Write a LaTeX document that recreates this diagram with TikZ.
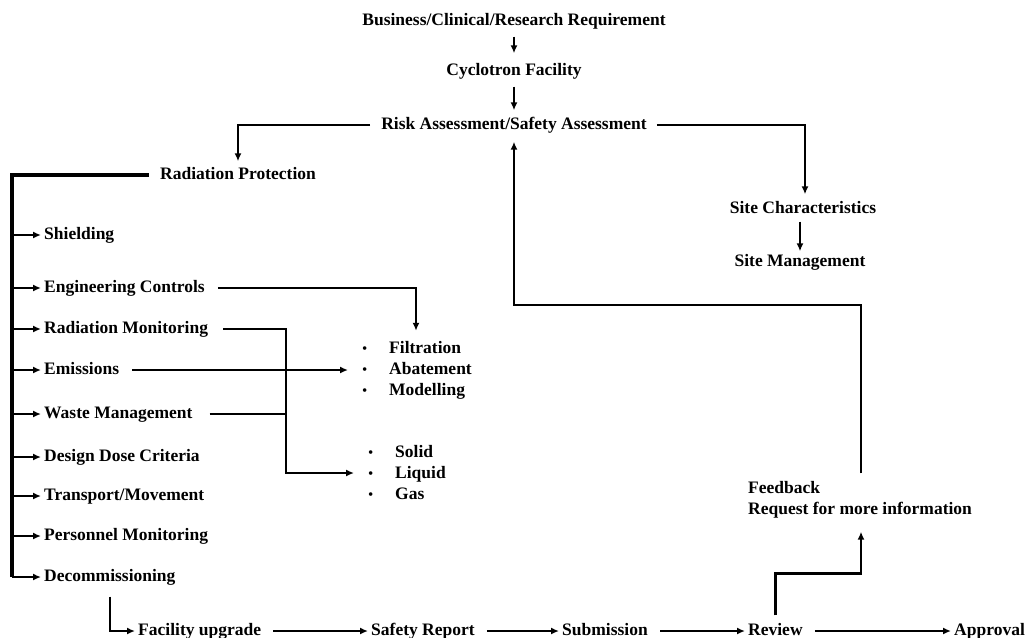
\documentclass[tikz,border=0pt]{standalone}
\usepackage{fontspec}
\setmainfont{Liberation Serif}
\usetikzlibrary{arrows.meta}

\tikzset{
  lbl/.style={font=\fontsize{17.5}{21}\selectfont\bfseries, inner sep=3pt, text height=11.5pt, text depth=3.5pt},
  blist/.style={font=\fontsize{17.5}{21}\selectfont\bfseries, inner sep=3pt, align=left},
  link/.style={line width=2.5pt, -{Latex[length=8pt,width=7pt]}},
  plain/.style={line width=2.5pt},
}
\newcommand{\bul}{\makebox[38pt][l]{\hspace{11pt}\mdseries\fontsize{15}{15}\selectfont\textbullet}}

\begin{document}
\begin{tikzpicture}[x=1pt, y=-1pt]
\useasboundingbox (0,-3) rectangle (1027,634);

% Top chain
\node[lbl] (biz) at (514,18) {Business/Clinical/Research Requirement};
\node[lbl] (cyc) at (514,68) {Cyclotron Facility};
\node[lbl] (risk) at (514,122) {Risk Assessment/Safety Assessment};
\draw[link, shorten <=5pt, shorten >=7pt] (biz) -- (cyc);
\draw[link, shorten <=5pt, shorten >=4pt] (cyc) -- (risk);

% Site branch
\node[lbl] (sitec) at (803,206) {Site Characteristics};
\node[lbl] (siteman) at (800,259) {Site Management};
\draw[link, shorten <=7pt, shorten >=4pt] (risk.east) -| ([xshift=2pt]sitec.north);
\draw[link, shorten <=2pt] (sitec.south -| siteman.north) -- (siteman.north);

% Radiation protection and its items
\node[lbl] (prot) at (238,172) {Radiation Protection};
\draw[link, shorten <=8pt, shorten >=3pt] (risk.west) -| (prot.north);
\coordinate (spine) at (12,172);
\foreach \nm/\yy/\txt in {shld/232/Shielding, eng/285/Engineering Controls,
    radmon/326/Radiation Monitoring, emis/367/Emissions, waste/411/Waste Management,
    dose/454/Design Dose Criteria, trans/493/{Transport/Movement},
    pers/533/Personnel Monitoring, dec/574/Decommissioning}
  \node[lbl, anchor=west] (\nm) at (41,\yy) {\txt};
\draw[line width=4pt] ([xshift=-8pt]prot.west) -- (spine) -- (spine |- dec.west);
\foreach \nm in {shld,eng,radmon,emis,waste,dose,trans,pers,dec}
  \draw[link] (spine |- \nm.west) -- (\nm.west);

% Bullet lists
\node[blist, anchor=west] (filt) at (348,367) {\bul Filtration\\ \bul Abatement\\ \bul Modelling};
\node[blist, anchor=west] (wlist) at (354,470) {\bul Solid\\ \bul Liquid\\ \bul Gas};
\coordinate (jn) at (286,0);
\draw[link, shorten <=10pt, shorten >=7pt] (eng.east) -| (416,0 |- filt.north);
\draw[link, shorten <=10pt] (emis.east) -- (filt.west);
\draw[link, shorten <=12pt] (radmon.east) -- (radmon.east -| jn) |- (wlist.west);
\draw[plain, shorten <=14pt] (waste.east) -- (waste.east -| jn);

% Bottom row
\node[lbl, anchor=west] (fac) at (135,628) {Facility upgrade};
\node[lbl, anchor=west] (safety) at (368,628) {Safety Report};
\node[lbl, anchor=west] (sub) at (559,628) {Submission};
\node[lbl, anchor=west] (rev) at (745,628) {Review};
\node[lbl, anchor=west] (appr) at (951,628) {Approval};
\draw[link, shorten <=9pt] (dec.south) |- (fac.west);
\draw[link, shorten <=9pt] (fac) -- (safety);
\draw[link, shorten <=9pt] (safety) -- (sub);
\draw[link, shorten <=9pt] (sub) -- (rev);
\draw[link, shorten <=9pt] (rev) -- (appr);

% Feedback loop
\node[blist, anchor=west] (fb) at (745,497) {Feedback\\ Request for more information};
\coordinate (fbturn) at (861,302);
\draw[link, shorten <=5pt, shorten >=10pt] (rev.north) -- ++(0,-47) -| (fbturn |- fb.south);
\draw[link, shorten <=5pt, shorten >=6pt] (fbturn |- fb.north) -- (fbturn) -| (risk.south);

\end{tikzpicture}
\end{document}
